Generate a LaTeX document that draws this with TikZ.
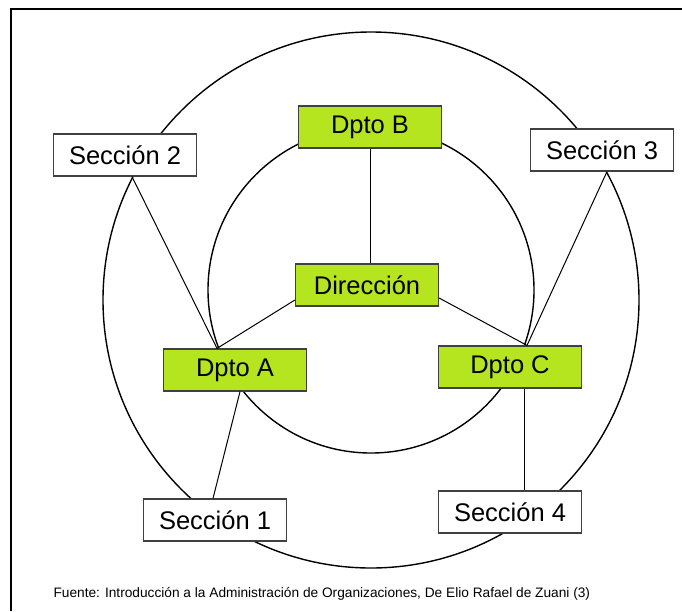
\documentclass[tikz,border=0pt]{standalone}
\usepackage{fontspec}
\setmainfont{Liberation Sans}
\definecolor{verde}{RGB}{181,229,30}
\tikzset{
  dpto/.style={draw=black!75, fill=verde, line width=1.2pt, minimum width=143pt, minimum height=42pt, inner sep=0pt, font=\fontsize{25.5}{30}\selectfont},
  seccion/.style={dpto, fill=white},
  enlace/.style={line width=1pt}
}
\begin{document}
\begin{tikzpicture}[x=1pt,y=-1pt]
\useasboundingbox (0,0) rectangle (682,611);
\draw[line width=2pt] (11,611) -- (11,9) -- (682,9); % frame
\draw[line width=1.4pt] (371,300) circle (268pt); % outer ring
\draw[line width=1.4pt] (371,290) circle (163pt); % inner ring
\node[dpto] (dB) at (370,127) {Dpto B};
\node[dpto] (dir) at (367,285) {Dirección};
\node[dpto] (dA) at (235,370) {Dpto A};
\node[dpto] (dC) at (510,367) {Dpto C};
\node[seccion] (s1) at (215,520) {Sección 1};
\node[seccion] (s2) at (125,155) {Sección 2};
\node[seccion] (s3) at (602,150) {Sección 3};
\node[seccion] (s4) at (510,512) {Sección 4};
\draw[enlace] (dB.south) -- (dB.south |- dir.north);
\draw[enlace] ([yshift=-15pt]dir.west) -- ([xshift=-18pt]dA.north);
\draw[enlace] ([yshift=-13pt]dir.east) -- ([xshift=17pt]dC.north);
\draw[enlace] ([xshift=7pt]s2.south) -- ([xshift=-18pt]dA.north);
\draw[enlace] ([xshift=5pt]s3.south) -- ([xshift=17pt]dC.north);
\draw[enlace] ([xshift=5pt]dA.south) -- ([xshift=-2pt]s1.north);
\draw[enlace] ([xshift=14pt]dC.south) -- ([xshift=14pt]s4.north);
\node[anchor=west, font=\fontsize{13.7}{16}\selectfont] (fuente) at (50,594) {Fuente: Introducción a la Administración de Organizaciones, De Elio Rafael de Zuani (3)};
\end{tikzpicture}
\end{document}
